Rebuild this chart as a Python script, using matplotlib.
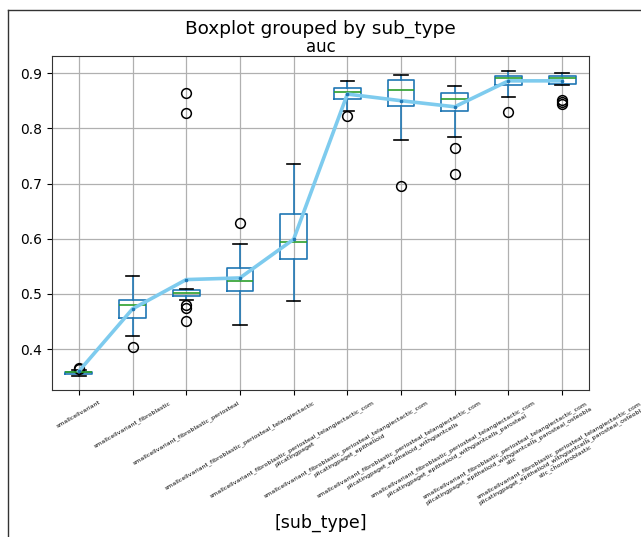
import matplotlib
matplotlib.use("Agg")
import matplotlib.pyplot as plt
from matplotlib.lines import Line2D

# sub-type groups (full names)
sub_types = [
    "smallcellvariant",
    "smallcellvariant_fibroblastic",
    "smallcellvariant_fibroblastic_periosteal",
    "smallcellvariant_fibroblastic_periosteal_telangiectactic",
    "smallcellvariant_fibroblastic_periosteal_telangiectactic_complicatingpaget",
    "smallcellvariant_fibroblastic_periosteal_telangiectactic_complicatingpaget_epithelioid",
    "smallcellvariant_fibroblastic_periosteal_telangiectactic_complicatingpaget_epithelioid_withgiantcells",
    "smallcellvariant_fibroblastic_periosteal_telangiectactic_complicatingpaget_epithelioid_withgiantcells_parosteal",
    "smallcellvariant_fibroblastic_periosteal_telangiectactic_complicatingpaget_epithelioid_withgiantcells_parosteal_osteoblastic",
    "smallcellvariant_fibroblastic_periosteal_telangiectactic_complicatingpaget_epithelioid_withgiantcells_parosteal_osteoblastic_chondroblastic",
]

# auc summary statistics per group
auc_median = [0.358, 0.480, 0.502, 0.523, 0.594, 0.866, 0.869, 0.853, 0.892, 0.892]
auc_q1     = [0.355, 0.457, 0.497, 0.505, 0.564, 0.854, 0.841, 0.832, 0.878, 0.881]
auc_q3     = [0.359, 0.489, 0.507, 0.547, 0.644, 0.873, 0.887, 0.864, 0.895, 0.895]
auc_whislo = [0.352, 0.424, 0.489, 0.443, 0.487, 0.831, 0.778, 0.784, 0.856, 0.878]
auc_whishi = [0.362, 0.533, 0.509, 0.591, 0.736, 0.885, 0.896, 0.877, 0.904, 0.901]
auc_fliers = [
    [0.364, 0.366],
    [0.404],
    [0.480, 0.475, 0.451, 0.864, 0.828],
    [0.628],
    [],
    [0.822],
    [0.695],
    [0.764, 0.718],
    [0.829],
    [0.851, 0.847, 0.844],
]
auc_mean = [0.360, 0.473, 0.526, 0.529, 0.599, 0.862, 0.850, 0.839, 0.886, 0.886]


def wrap_label(name, width=60):
    return "\n".join(name[i:i + width] for i in range(0, len(name), width))


fig = plt.figure(figsize=(6.41, 5.37), dpi=100)
ax = fig.add_axes([52 / 641, 1 - 390 / 537, (589 - 52) / 641, (390 - 56) / 537])

stats = []
for i, name in enumerate(sub_types):
    stats.append(dict(label=wrap_label(name), med=auc_median[i], q1=auc_q1[i],
                      q3=auc_q3[i], whislo=auc_whislo[i], whishi=auc_whishi[i],
                      fliers=auc_fliers[i]))

ax.bxp(stats, positions=range(1, len(stats) + 1), widths=0.5,
       boxprops=dict(color="#1f77b4", linewidth=1.2),
       whiskerprops=dict(color="#1f77b4", linewidth=1.2),
       medianprops=dict(color="#2ca02c", linewidth=1.2),
       capprops=dict(color="black", linewidth=1.2),
       flierprops=dict(marker="o", markerfacecolor="none",
                       markeredgecolor="black", markersize=7, markeredgewidth=1.1))

positions = list(range(1, len(sub_types) + 1))
ax.plot(positions, auc_mean, color="#7ecbee", linewidth=2.6, zorder=5)
ax.plot(positions, auc_mean, linestyle="none", marker="o", markersize=1.6,
        color="#1f77b4", zorder=6)

ax.set_xlim(0.5, 10.5)
ax.set_ylim(0.326, 0.931)
ax.set_yticks([0.4, 0.5, 0.6, 0.7, 0.8, 0.9])
ax.tick_params(axis="y", labelsize=10)
ax.tick_params(axis="x", labelsize=4.5)
for lbl in ax.get_xticklabels():
    lbl.set_rotation(30)
    lbl.set_ha("center")
ax.grid(True, color="#b0b0b0", linewidth=0.9)
ax.set_axisbelow(True)
for sp in ax.spines.values():
    sp.set_color("#333333")

ax.set_title("auc", fontsize=12, pad=3)
fig.suptitle("Boxplot grouped by sub_type", fontsize=13.3, y=1 - 20 / 537)
ax.set_xlabel("[sub_type]", fontsize=12.5)
ax.xaxis.set_label_coords(0.5, -0.37)

# figure border (left and top edges)
fig.add_artist(Line2D([8 / 641, 8 / 641], [0, 1 - 10 / 537], transform=fig.transFigure,
                      color="#333333", linewidth=1.0))
fig.add_artist(Line2D([8 / 641, 1], [1 - 10 / 537, 1 - 10 / 537], transform=fig.transFigure,
                      color="#333333", linewidth=1.0))

fig.savefig("out.png", dpi=100)
